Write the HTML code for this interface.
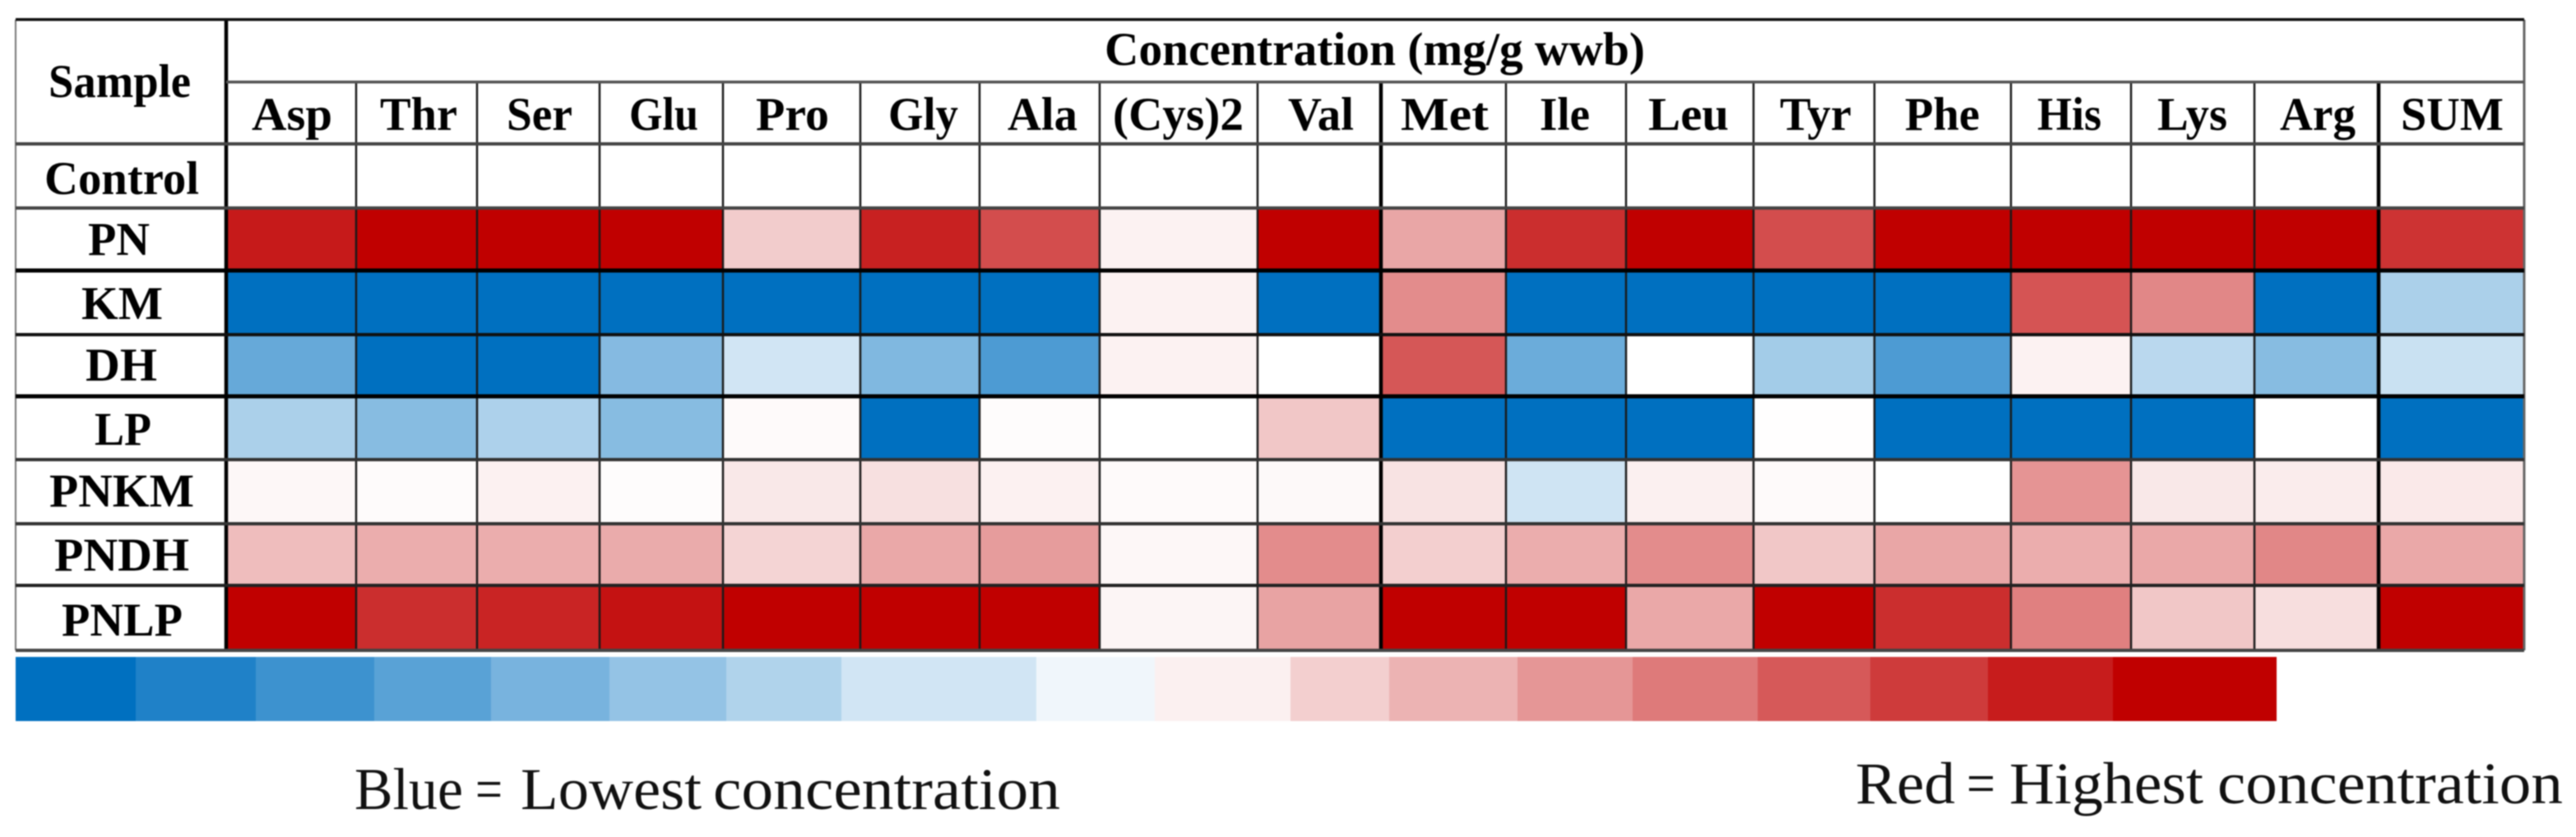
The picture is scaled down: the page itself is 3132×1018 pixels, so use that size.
<!DOCTYPE html>
<html lang="en">
<head>
<meta charset="utf-8">
<title>Amino acid concentration heatmap</title>
<style>
  html, body { margin: 0; padding: 0; background: #fff; width: 3132px; height: 1018px; overflow: hidden; }
  svg { display: block; filter: blur(0.8px); }
  text { font-family: "Liberation Serif", serif; fill: #000; }
  .bold { font-weight: bold; font-size: 57px; text-anchor: middle; }
  .note { font-size: 72px; fill: #111; }
</style>
</head>
<body>
<svg id="chart" xmlns="http://www.w3.org/2000/svg" width="3132" height="1018" viewBox="0 0 3132 1018">
  <rect x="0" y="0" width="3132" height="1018" fill="#ffffff"/>
  <text class="bold" x="145.5" y="118" textLength="173" lengthAdjust="spacingAndGlyphs">Sample</text>
  <text class="bold" x="1671.5" y="79" textLength="657" lengthAdjust="spacingAndGlyphs">Concentration (mg/g wwb)</text>
  <text class="note" y="984"><tspan x="431" textLength="132" lengthAdjust="spacingAndGlyphs">Blue</tspan> <tspan x="578" textLength="33" lengthAdjust="spacingAndGlyphs">=</tspan> <tspan x="633" textLength="220" lengthAdjust="spacingAndGlyphs">Lowest</tspan> <tspan x="867" textLength="422" lengthAdjust="spacingAndGlyphs">concentration</tspan></text>
  <text class="note" y="977"><tspan x="2256" textLength="121" lengthAdjust="spacingAndGlyphs">Red</tspan> <tspan x="2391" textLength="35" lengthAdjust="spacingAndGlyphs">=</tspan> <tspan x="2443" textLength="236" lengthAdjust="spacingAndGlyphs">Highest</tspan> <tspan x="2696" textLength="420" lengthAdjust="spacingAndGlyphs">concentration</tspan></text>
</svg>
<script>
// ---- data ----
const aminoAcids = ["Asp","Thr","Ser","Glu","Pro","Gly","Ala","(Cys)2","Val","Met","Ile","Leu","Tyr","Phe","His","Lys","Arg","SUM"];
const samples = ["Control","PN","KM","DH","LP","PNKM","PNDH","PNLP"];
// relative level: -1 = lowest (blue), 0 = white, 1 = highest (red)
const control = [0,0,0,0,0,0,0,0,0,0,0,0,0,0,0,0,0,0];
const pn   = [.9,1,1,1,.2,.87,.7,.05,1,.35,.82,1,.7,1,1,1,1,.8];
const km   = [-1,-1,-1,-1,-1,-1,-1,.05,-1,.45,-1,-1,-1,-1,.67,.47,-1,-.33];
const dh   = [-.6,-1,-1,-.48,-.18,-.5,-.7,.05,0,.66,-.58,0,-.36,-.7,.05,-.27,-.47,-.21];
const lp   = [-.33,-.47,-.32,-.47,.02,-1,.01,0,.22,-1,-1,-1,.005,-1,-1,-1,0,-1];
const pnkm = [.03,.015,.055,.01,.09,.12,.055,.02,.025,.11,-.19,.06,.02,0,.42,.09,.075,.085];
const pndh = [.26,.32,.32,.33,.17,.34,.39,.03,.45,.19,.32,.45,.22,.35,.32,.34,.47,.34];
const pnlp = [1,.82,.86,.93,1,1,1,.04,.36,1,1,.34,1,.82,.5,.22,.13,1];
const legendLevels = [-1,-.88,-.76,-.65,-.53,-.42,-.31,-.18,-.06,.06,.19,.3,.41,.52,.65,.77,.89,1];

const seriesValues = [control, pn, km, dh, lp, pnkm, pndh, pnlp];

// ---- layout (grid and label geometry, not data) ----
const colEdges = [275,433,580,729,879,1046,1191,1337,1529,1679,1831,1977,2132,2279,2445,2591,2741,2892,3069];
const rowEdges = [175,253,329,407,482,559,637,712,791];
const legendEdges = [19,165,311,455,597,741,883,1023,1260,1404,1569,1689,1845,1985,2137,2274,2417,2569,2768];
const tableLeft = 19, tableTop = 24, headDivider = 100;
const thickCols = [0,9,17];
const rowLineStyle = [[4,"#444"],[4,"#444"],[5,"#000"],[4,"#111"],[5,"#000"],[4,"#333"],[4,"#333"],[4,"#222"],[4,"#444"]];
const rowBaselineOffset = [61,57,59,56,59,57,57,61];
const colLabelWidth = [98,94,80,84,89,85,85,159,80,107,61,98,87,91,78,85,92,125];
const colLabelShift = [1,2.5,1.5,3,1,4,3.5,-.5,2,1.5,-1.5,-1.5,2,-.5,-2,-.5,1.5,1];
const rowLabelWidth = [188,75,99,87,69,176,164,147];
const rowLabelCenter = [148,144.5,148.5,147.5,149.5,148,148,148.5];

const svg = document.getElementById("chart");
const NS = "http://www.w3.org/2000/svg";
function xPos(i) { return colEdges[i]; }
function yPos(i) { return rowEdges[i]; }
function mix(a, b, t) { return Math.round(a + (b - a) * t); }
function colorScale(v) {
  const t = Math.min(1, Math.abs(v));
  const target = v >= 0 ? [192, 0, 0] : [0, 112, 192];
  return "rgb(" + mix(255, target[0], t) + "," + mix(255, target[1], t) + "," + mix(255, target[2], t) + ")";
}
function rect(x, y, w, h, fill) {
  const r = document.createElementNS(NS, "rect");
  r.setAttribute("x", x);
  r.setAttribute("y", y);
  r.setAttribute("width", w);
  r.setAttribute("height", h);
  r.setAttribute("fill", fill);
  svg.appendChild(r);
  return r;
}
function label(str, x, y, width) {
  const t = document.createElementNS(NS, "text");
  t.setAttribute("class", "bold");
  t.setAttribute("x", x);
  t.setAttribute("y", y);
  t.setAttribute("textLength", width);
  t.setAttribute("lengthAdjust", "spacingAndGlyphs");
  t.textContent = str;
  svg.appendChild(t);
  return t;
}

// heatmap cells
seriesValues.forEach(function (vals, r) {
  vals.forEach(function (v, c) {
    const cell = rect(xPos(c), yPos(r), xPos(c + 1) - xPos(c), yPos(r + 1) - yPos(r), colorScale(v));
    
    
  });
});

// legend bands
legendLevels.forEach(function (v, i) {
  const band = rect(legendEdges[i], 799, legendEdges[i + 1] - legendEdges[i], 78, colorScale(v));
  
  
});

// vertical grid lines
colEdges.forEach(function (x, i) {
  const last = i === colEdges.length - 1;
  const thick = thickCols.indexOf(i) >= 0;
  const w = thick ? 4.5 : (last ? 3 : 2.5);
  const top = (i === 0 || last) ? tableTop : headDivider;
  const line = rect(x - w / 2, top, w, yPos(rowEdges.length - 1) - top, thick ? "#000" : (last ? "#666" : "#1a1a1a"));
  
  
});

// outer left border
const leftBorder = rect(tableLeft - 1, tableTop, 2, yPos(rowEdges.length - 1) - tableTop, "#777");



// horizontal lines
const topBorder = rect(tableLeft, tableTop - 2, xPos(colEdges.length - 1) - tableLeft, 3.5, "#111");


const headLine = rect(xPos(0), headDivider - 2, xPos(colEdges.length - 1) - xPos(0), 3.5, "#555");


rowEdges.forEach(function (y, i) {
  const h = rowLineStyle[i][0];
  const line = rect(tableLeft, y - h / 2, xPos(colEdges.length - 1) - tableLeft, h, rowLineStyle[i][1]);
  
  
});

// column labels
aminoAcids.forEach(function (name, i) {
  const t = label(name, (xPos(i) + xPos(i + 1)) / 2 + colLabelShift[i], 158, colLabelWidth[i]);
  
  
});

// row labels
samples.forEach(function (name, i) {
  const t = label(name, rowLabelCenter[i], yPos(i) + rowBaselineOffset[i], rowLabelWidth[i]);
  
  
});
</script>
</body>
</html>
